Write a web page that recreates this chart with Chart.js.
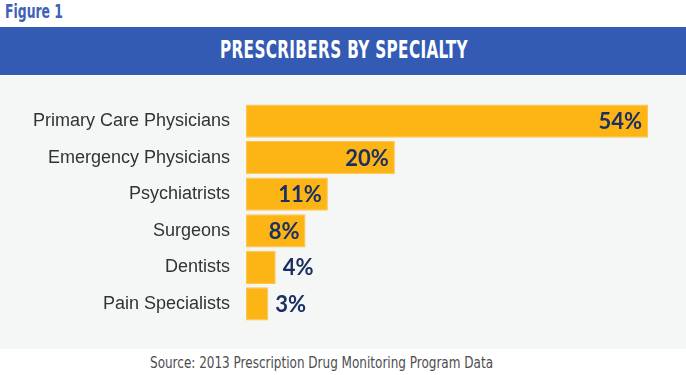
<!DOCTYPE html>
<html>
<head>
<meta charset="utf-8">
<script src="https://cdn.jsdelivr.net/npm/chart.js@4/dist/chart.umd.min.js"></script>
<style>
  body { margin: 0; width: 686px; height: 375px; background: #fff; position: relative; overflow: hidden; }
  .fit { position: absolute; white-space: nowrap; transform-origin: 0 0; }
  #fig { left: 5px; top: -1px; font: bold 20px "Liberation Sans Narrow", "DejaVu Sans Condensed", sans-serif; color: #3d62b8; }
  #banner { position: absolute; left: 0; top: 27px; width: 686px; height: 48px; background: #335bb4; }
  #title { left: 220px; top: 36px; font: bold 24px "Liberation Sans Narrow", "DejaVu Sans Condensed", sans-serif; color: #fff; letter-spacing: 0.5px; }
  #panel { position: absolute; left: 0; top: 76px; width: 686px; height: 273px; background: #f5f6f6; }
  #panel canvas { display: block; }
  #source { left: 150px; top: 353px; font: 16px "Liberation Sans Narrow", "DejaVu Sans Condensed", sans-serif; color: #4d4d4f; }
</style>
</head>
<body>
<div id="fig" class="fit" data-w="58">Figure 1</div>
<div id="banner"></div>
<div id="title" class="fit" data-w="248">PRESCRIBERS BY SPECIALTY</div>
<div id="panel"><canvas id="chart" width="686" height="273"></canvas></div>
<div id="source" class="fit" data-w="343">Source: 2013 Prescription Drug Monitoring Program Data</div>

<script>
// data
const specialties = ['Primary Care Physicians', 'Emergency Physicians', 'Psychiatrists', 'Surgeons', 'Dentists', 'Pain Specialists'];
const shares = [54, 20, 11, 8, 4, 3];

// squeeze condensed headings to the reference widths
document.querySelectorAll('.fit').forEach(el => {
  const w = el.getBoundingClientRect().width;
  el.style.transform = `scaleX(${el.dataset.w / w})`;
});

// ── value labels: inside the bar end when there is room, else just past it ──
const valueLabels = {
  id: 'valueLabels',
  afterDatasetsDraw(chart) {
    const { ctx } = chart;
    const meta = chart.getDatasetMeta(0);
    ctx.save();
    ctx.font = 'bold 22px Lato, "Open Sans", sans-serif';
    ctx.fillStyle = '#1c2f63';
    ctx.textBaseline = 'middle';
    meta.data.forEach((bar, i) => {
      const v = shares[i];
      const txt = v + '%';
      if (v >= 8) {
        ctx.textAlign = 'right';
        ctx.fillText(txt, bar.x - 6, bar.y + 1);
      } else {
        ctx.textAlign = 'left';
        ctx.fillText(txt, bar.x + 7, bar.y + 1);
      }
    });
    ctx.restore();
  }
};

new Chart(document.getElementById('chart'), {
  type: 'bar',
  data: {
    labels: specialties,
    datasets: [{
      data: shares,
      backgroundColor: '#fdb515',
      borderColor: '#fdc650',
      borderWidth: 1,
      borderSkipped: false,
      barPercentage: 0.91,
      categoryPercentage: 1,
    }],
  },
  options: {
    indexAxis: 'y',
    responsive: false,
    animation: false,
    layout: { padding: { left: 0, right: 38, top: 23, bottom: 26 } },
    plugins: {
      legend: { display: false },
      tooltip: { enabled: false },
    },
    scales: {
      x: { display: false, min: 0, max: 54 },
      y: {
        grid: { display: false, drawTicks: false },
        border: { display: false },
        afterFit: (scale) => { scale.width = 246; },
        ticks: {
          color: '#333333',
          padding: 16,
          font: { family: '"Liberation Sans", Arial, sans-serif', size: 18 },
        },
      },
    },
  },
  plugins: [valueLabels],
});
</script>
</body>
</html>
